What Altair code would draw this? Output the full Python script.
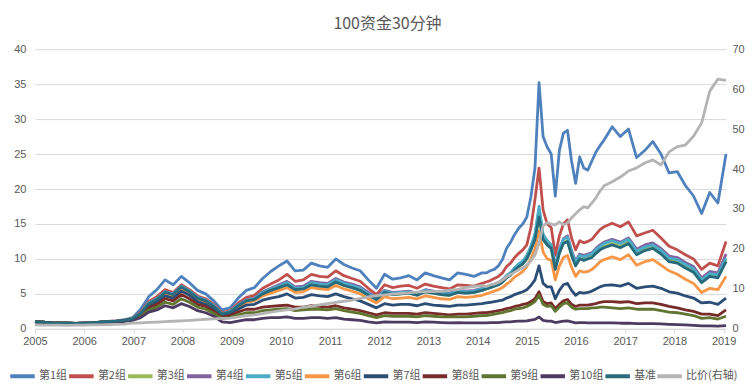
import altair as alt
import pandas as pd

# month index since Jan 2005 (2-monthly, monthly around 2015)
MONTHS = list(range(0, 110, 2)) + list(range(110, 141)) + list(range(142, 171, 2))

NAMES = ["第1组", "第2组", "第3组", "第4组", "第5组", "第6组", "第7组",
         "第8组", "第9组", "第10组", "基准", "比价(右轴)"]
COLORS = ["#4F81BD", "#C0504D", "#9BBB59", "#8064A2", "#4BACC6", "#F79646",
          "#2C4D75", "#772C2A", "#5F7530", "#4D3B62", "#276A7C", "#B4B4B4"]
YEAR_LABELS = [str(y) for y in range(2005, 2020)]

g1 = [1.0, 0.95, 0.85, 0.8, 0.8, 0.78, 0.82, 0.85, 0.95, 1.05,
      1.15, 1.3, 1.6, 2.8, 4.6, 5.6, 7.0, 6.3, 7.5, 6.6,
      5.5, 5.0, 4.0, 2.7, 3.0, 4.4, 5.5, 5.9, 7.2, 8.2,
      9.0, 9.7, 8.3, 8.4, 9.4, 9.0, 8.8, 10.0, 9.2, 8.7,
      8.3, 7.0, 5.8, 7.8, 7.1, 7.3, 7.6, 7.0, 8.0, 7.6,
      7.3, 7.0, 8.0, 7.8, 7.5,
      8.0, 8.0, 8.3, 8.5, 9.0, 9.9, 11.5, 12.4, 13.5, 14.4,
      15.0, 16.0, 18.9, 23.0, 35.2, 27.5, 26.0, 25.0, 19.0, 25.5,
      28.0, 28.4, 24.0, 20.8, 24.6, 23.0, 22.7, 24.0, 25.3, 26.2,
      27.0,
      28.9, 27.5, 28.6, 24.5, 25.5, 26.8, 25.0, 22.3, 22.5, 20.5, 19.0, 16.5, 19.5, 18.0, 25.0]

g2 = [1.0, 0.95, 0.85, 0.8, 0.8, 0.78, 0.82, 0.85, 0.95, 1.05,
      1.12, 1.25, 1.5, 2.4, 3.9, 4.6, 5.6, 5.2, 6.3, 5.6,
      4.7, 4.3, 3.5, 2.3, 2.6, 3.7, 4.5, 4.8, 5.8, 6.4,
      7.0, 7.8, 6.8, 7.0, 7.8, 7.5, 7.4, 8.3, 7.6, 7.2,
      6.8, 5.8, 4.9, 6.3, 5.9, 6.1, 6.2, 5.8, 6.4, 6.1,
      5.9, 5.7, 6.3, 6.2, 6.1,
      6.5, 6.7, 6.9, 7.2, 7.5, 8.0, 8.9, 9.4, 10.2, 10.8,
      11.3, 12.0, 14.5, 18.5, 23.0, 17.0, 15.0, 14.5, 10.5, 13.3,
      15.0, 15.6, 13.0, 11.3, 12.6, 12.3, 12.5, 12.8, 13.5, 14.2,
      14.6,
      15.1, 14.6, 15.3, 13.3, 13.7, 14.1, 13.0, 11.8, 11.3, 10.6, 10.0, 8.5, 9.4, 9.0, 12.5]

g3 = [1.0, 0.95, 0.85, 0.8, 0.8, 0.78, 0.82, 0.85, 0.95, 1.05,
      1.1, 1.21, 1.46, 2.2, 3.6, 4.2, 5.2, 4.9, 6.0, 5.3,
      4.4, 4.0, 3.2, 2.1, 2.4, 3.3, 4.0, 4.2, 5.0, 5.5,
      5.9, 6.4, 5.6, 5.7, 6.3, 6.1, 6.0, 6.7, 6.2, 5.9,
      5.5, 4.8, 4.2, 5.2, 4.9, 5.0, 5.1, 4.8, 5.3, 5.1,
      4.9, 4.8, 5.2, 5.1, 5.2,
      5.5, 5.7, 5.9, 6.1, 6.3, 6.7, 7.3, 7.7, 8.4, 8.9,
      9.3, 10.0, 11.3, 12.8, 15.8, 12.8, 12.0, 11.5, 8.6, 10.9,
      12.3, 12.6, 10.6, 9.2, 10.1, 9.9, 10.1, 10.4, 10.9, 11.5,
      11.8,
      12.2, 11.8, 12.4, 10.8, 11.4, 11.7, 10.9, 9.8, 9.6, 8.9, 8.3, 6.8, 7.7, 7.5, 9.9]

g4 = [1.0, 0.95, 0.85, 0.8, 0.8, 0.78, 0.82, 0.85, 0.95, 1.05,
      1.1, 1.22, 1.47, 2.25, 3.65, 4.3, 5.3, 5.0, 6.1, 5.4,
      4.5, 4.1, 3.3, 2.15, 2.45, 3.4, 4.1, 4.4, 5.3, 5.8,
      6.3, 6.8, 6.0, 6.1, 6.8, 6.6, 6.5, 7.2, 6.7, 6.4,
      6.0, 5.2, 4.5, 5.5, 5.2, 5.3, 5.4, 5.1, 5.6, 5.4,
      5.2, 5.1, 5.5, 5.4, 5.5,
      5.8, 6.0, 6.2, 6.4, 6.6, 7.0, 7.6, 8.0, 8.7, 9.2,
      9.6, 10.4, 11.7, 13.4, 17.0, 13.4, 12.6, 12.0, 9.0, 11.4,
      12.9, 13.3, 11.2, 9.7, 10.7, 10.5, 10.7, 10.9, 11.5, 12.0,
      12.4,
      12.8, 12.4, 13.0, 11.4, 12.0, 12.3, 11.5, 10.4, 10.2, 9.5, 8.9, 7.3, 8.2, 8.0, 10.7]

g5 = [1.0, 0.95, 0.85, 0.8, 0.8, 0.78, 0.82, 0.85, 0.95, 1.05,
      1.1, 1.22, 1.48, 2.25, 3.7, 4.3, 5.3, 5.0, 6.1, 5.4,
      4.5, 4.1, 3.3, 2.15, 2.45, 3.4, 4.1, 4.3, 5.2, 5.7,
      6.1, 6.6, 5.8, 5.9, 6.6, 6.4, 6.3, 7.0, 6.5, 6.2,
      5.8, 5.0, 4.4, 5.4, 5.1, 5.2, 5.3, 5.0, 5.5, 5.3,
      5.1, 5.0, 5.4, 5.3, 5.4,
      5.7, 5.9, 6.1, 6.3, 6.5, 7.0, 7.6, 8.0, 8.7, 9.3,
      9.7, 10.5, 11.8, 13.6, 17.5, 13.5, 12.6, 12.0, 8.9, 11.3,
      12.8, 13.1, 11.0, 9.5, 10.5, 10.3, 10.5, 10.7, 11.3, 11.8,
      12.2,
      12.6, 12.2, 12.8, 11.1, 11.7, 12.0, 11.2, 10.1, 9.9, 9.2, 8.6, 7.0, 7.9, 7.7, 10.1]

g6 = [1.0, 0.95, 0.85, 0.8, 0.8, 0.78, 0.82, 0.85, 0.95, 1.05,
      1.1, 1.2, 1.4, 2.1, 3.4, 4.0, 5.0, 4.7, 5.8, 5.1,
      4.2, 3.8, 3.0, 2.0, 2.3, 3.1, 3.8, 4.0, 4.7, 5.1,
      5.5, 5.9, 5.2, 5.3, 5.9, 5.7, 5.6, 6.2, 5.7, 5.4,
      5.0, 4.3, 3.7, 4.6, 4.3, 4.4, 4.5, 4.3, 4.7, 4.5,
      4.3, 4.2, 4.6, 4.5, 4.6,
      4.8, 5.0, 5.2, 5.4, 5.6, 5.9, 6.4, 6.8, 7.4, 7.8,
      8.2, 8.9, 10.0, 11.5, 14.0, 11.0, 10.0, 9.8, 7.0, 9.0,
      10.2, 10.5, 8.8, 7.5, 8.3, 8.1, 8.2, 8.5, 9.0, 9.6,
      9.9,
      10.3, 9.9, 10.6, 9.1, 9.6, 9.9, 9.1, 8.3, 7.8, 7.1, 6.5, 5.2, 5.8, 5.6, 7.5]

g7 = [1.0, 0.95, 0.85, 0.8, 0.8, 0.78, 0.82, 0.85, 0.95, 1.05,
      1.1, 1.2, 1.4, 2.0, 3.2, 3.8, 4.7, 4.4, 5.4, 4.8,
      3.9, 3.5, 2.8, 1.8, 2.1, 2.8, 3.4, 3.5, 4.1, 4.4,
      4.6, 5.0, 4.4, 4.5, 4.9, 4.7, 4.6, 5.0, 4.6, 4.3,
      4.0, 3.5, 3.0, 3.6, 3.4, 3.5, 3.5, 3.3, 3.6, 3.4,
      3.3, 3.2, 3.4, 3.4, 3.5,
      3.6, 3.7, 3.8, 3.9, 4.0, 4.1, 4.4, 4.6, 4.9, 5.1,
      5.3, 5.6, 6.2, 7.0, 9.0, 6.5, 6.0, 6.0, 4.3, 5.5,
      6.3, 6.5, 5.5, 4.8, 5.2, 5.1, 5.2, 5.4, 5.7, 6.0,
      6.2,
      6.3, 6.1, 6.5, 5.8, 6.0, 6.1, 5.8, 5.3, 5.1, 4.7, 4.4, 3.7, 3.8, 3.5, 4.4]

g8 = [1.0, 0.95, 0.85, 0.8, 0.8, 0.78, 0.8, 0.85, 0.93, 1.0,
      1.05, 1.15, 1.35, 1.9, 3.0, 3.5, 4.3, 4.0, 4.9, 4.3,
      3.5, 3.2, 2.5, 1.7, 1.9, 2.4, 2.8, 2.8, 3.1, 3.2,
      3.3, 3.4, 3.1, 3.1, 3.3, 3.2, 3.1, 3.3, 3.0, 2.8,
      2.6, 2.3, 2.0, 2.3, 2.2, 2.2, 2.2, 2.1, 2.3, 2.2,
      2.1, 2.0, 2.1, 2.1, 2.2,
      2.3, 2.3, 2.4, 2.5, 2.6, 2.7, 2.9, 3.0, 3.2, 3.3,
      3.5, 3.6, 3.9, 4.3, 5.3, 3.9, 3.6, 3.7, 2.9, 3.5,
      4.0, 4.2, 3.5, 3.2, 3.4, 3.4, 3.4, 3.5, 3.6, 3.8,
      3.9,
      3.9, 3.8, 3.9, 3.6, 3.7, 3.7, 3.5, 3.2, 3.0, 2.7, 2.5, 2.1, 2.1, 1.9, 2.7]

g9 = [1.0, 0.95, 0.85, 0.8, 0.8, 0.78, 0.8, 0.84, 0.92, 1.0,
      1.05, 1.12, 1.3, 1.8, 2.7, 3.1, 3.8, 3.5, 4.3, 3.8,
      3.1, 2.8, 2.2, 1.5, 1.6, 2.0, 2.3, 2.3, 2.6, 2.7,
      2.8, 2.9, 2.6, 2.7, 2.8, 2.8, 2.7, 2.9, 2.6, 2.4,
      2.2, 1.9, 1.6, 1.9, 1.8, 1.8, 1.8, 1.7, 1.9, 1.8,
      1.7, 1.7, 1.7, 1.7, 1.8,
      1.9, 1.9, 2.0, 2.1, 2.2, 2.3, 2.5, 2.6, 2.8, 2.9,
      3.0, 3.2, 3.5, 3.9, 4.8, 3.5, 3.2, 3.3, 2.5, 3.1,
      3.6, 3.7, 3.1, 2.8, 2.9, 2.9, 2.9, 3.0, 3.0, 3.1,
      3.1,
      3.0, 2.9, 3.0, 2.8, 2.8, 2.8, 2.6, 2.4, 2.3, 2.1, 1.9, 1.5, 1.6, 1.4, 1.8]

g10 = [1.0, 0.95, 0.85, 0.8, 0.8, 0.78, 0.8, 0.83, 0.9, 0.97,
       1.0, 1.05, 1.2, 1.6, 2.4, 2.7, 3.3, 3.0, 3.6, 3.2,
       2.6, 2.3, 1.8, 1.0, 0.9, 1.1, 1.3, 1.3, 1.5, 1.6,
       1.6, 1.7, 1.5, 1.5, 1.6, 1.6, 1.5, 1.6, 1.4, 1.3,
       1.2, 1.0, 0.85, 1.0, 0.95, 0.95, 0.95, 0.9, 1.0, 0.95,
       0.9, 0.85, 0.9, 0.85, 0.85,
       0.85, 0.85, 0.9, 0.9, 0.9, 0.95, 1.0, 1.0, 1.05, 1.1,
       1.1, 1.15, 1.25, 1.35, 1.7, 1.2, 1.1, 1.1, 0.9, 1.0,
       1.1, 1.15, 1.0, 0.85, 0.9, 0.9, 0.85, 0.85, 0.85, 0.85,
       0.85,
       0.85, 0.8, 0.8, 0.75, 0.75, 0.75, 0.7, 0.65, 0.6, 0.55, 0.5, 0.42, 0.42, 0.38, 0.45]

bench = [1.0, 0.95, 0.85, 0.8, 0.8, 0.78, 0.82, 0.85, 0.95, 1.05,
         1.1, 1.2, 1.45, 2.2, 3.6, 4.2, 5.2, 4.9, 6.0, 5.3,
         4.4, 4.0, 3.2, 2.1, 2.4, 3.3, 4.0, 4.2, 5.0, 5.5,
         5.9, 6.3, 5.6, 5.7, 6.3, 6.1, 6.0, 6.7, 6.2, 5.9,
         5.5, 4.8, 4.2, 5.2, 4.9, 5.0, 5.1, 4.8, 5.3, 5.1,
         4.9, 4.8, 5.2, 5.1, 5.2,
         5.5, 5.7, 5.9, 6.1, 6.3, 6.7, 7.3, 7.7, 8.4, 8.9,
         9.3, 10.0, 11.3, 12.8, 16.0, 12.8, 12.0, 11.5, 8.5, 10.8,
         12.2, 12.5, 10.5, 9.0, 10.0, 9.8, 10.0, 10.2, 10.8, 11.3,
         11.6,
         12.0, 11.6, 12.2, 10.6, 11.2, 11.5, 10.7, 9.6, 9.4, 8.7, 8.1, 6.6, 7.5, 7.3, 9.6]

ratio = [1.0, 0.95, 0.9, 0.9, 0.85, 0.9, 0.95, 1.0, 1.0, 1.05,
         1.1, 1.2, 1.4, 1.5, 1.6, 1.7, 1.8, 1.9, 2.0, 2.1,
         2.25, 2.4, 2.5, 2.6, 2.7, 3.0, 3.3, 3.5, 3.8, 4.2,
         4.5, 4.75, 5.0, 5.4, 5.7, 6.0, 6.3, 6.6, 6.9, 7.2,
         7.6, 8.0, 8.3, 8.5, 8.7, 8.9, 9.0, 9.2, 9.3, 9.3,
         9.4, 9.7, 9.9, 10.3, 10.6,
         10.8, 10.6, 11.0, 11.2, 11.6, 12.2, 13.0, 13.6, 14.2, 14.8,
         15.2, 16.0, 17.0, 18.5, 21.4, 25.8, 26.6, 26.2, 26.0, 26.8,
         26.0, 26.5, 27.8, 28.8, 29.8, 30.6, 30.3, 31.5, 32.8, 34.5,
         35.8,
         36.8, 38.0, 39.5, 40.3, 41.5, 42.3, 41.0, 44.3, 45.6, 46.0, 48.2, 51.5, 59.5, 62.5, 62.2]

SERIES = [g1, g2, g3, g4, g5, g6, g7, g8, g9, g10, bench, ratio]

rows = []
for name, vals in zip(NAMES, SERIES):
    for m, v in zip(MONTHS, vals):
        rows.append({"m": m, "series": name, "v": v})
df = pd.DataFrame(rows)

GREY = "#595959"
GRID = "#D9D9D9"
LABEL_STEP = 12.1
label_expr = "[" + ",".join("'%s'" % y for y in YEAR_LABELS) + "][round(datum.value / %s)]" % LABEL_STEP

x_enc = alt.X("m:Q", scale=alt.Scale(domain=[0, 170], nice=False, zero=False),
              axis=alt.Axis(values=[i * LABEL_STEP for i in range(15)], labelExpr=label_expr,
                            grid=False, title=None, domainColor=GRID, tickColor=GRID,
                            tickSize=4, labelPadding=3, labelColor=GREY, labelFontSize=11,
                            labelFont="Liberation Sans", labelFlush=False))

color_enc = alt.Color("series:N", scale=alt.Scale(domain=NAMES, range=COLORS),
                      legend=alt.Legend(title=None, orient="none", legendX=-27, legendY=313,
                                        direction="horizontal", columns=12, gridAlign="none",
                                        symbolType="stroke", symbolSize=600,
                                        symbolStrokeWidth=4, labelFontSize=11,
                                        labelColor=GREY, labelFont="Noto Sans CJK SC",
                                        columnPadding=-7, labelOffset=2))

yl = alt.Y("v:Q", scale=alt.Scale(domain=[0, 40], nice=False),
           axis=alt.Axis(values=list(range(0, 41, 5)), grid=True, gridColor=GRID, domain=False,
                         ticks=False, labelPadding=9, title=None, labelColor=GREY,
                         labelFontSize=11, labelFont="Liberation Sans"))
yr = alt.Y("v:Q", scale=alt.Scale(domain=[0, 70], nice=False),
           axis=alt.Axis(orient="right", values=list(range(0, 71, 10)), grid=False, domain=False,
                         ticks=False, labelPadding=6, title=None, labelColor=GREY,
                         labelFontSize=11, labelFont="Liberation Sans"))

base = alt.Chart(df)
left_layers = [
    base.transform_filter(alt.datum.series == n)
        .mark_line(strokeWidth=2.8, strokeJoin="round")
        .encode(x=x_enc, y=yl, color=color_enc)
    for n in NAMES[:-1]
]
left = alt.layer(*left_layers)
right = (base.transform_filter(alt.datum.series == NAMES[-1])
         .mark_line(strokeWidth=2.8, strokeJoin="round")
         .encode(x=x_enc, y=yr, color=color_enc))

chart = (alt.layer(left, right)
         .resolve_scale(y="independent")
         .properties(width=692, height=280, padding={"left": 0, "top": 8, "right": 0, "bottom": 0},
                     title=alt.TitleParams("100资金30分钟", fontSize=16, color=GREY,
                                           font="Noto Sans CJK SC", fontWeight="normal",
                                           anchor="middle", offset=11, dx=7))
         .configure_view(stroke=None))

chart.save("out.html", embed_options={"renderer": "svg", "actions": False})
